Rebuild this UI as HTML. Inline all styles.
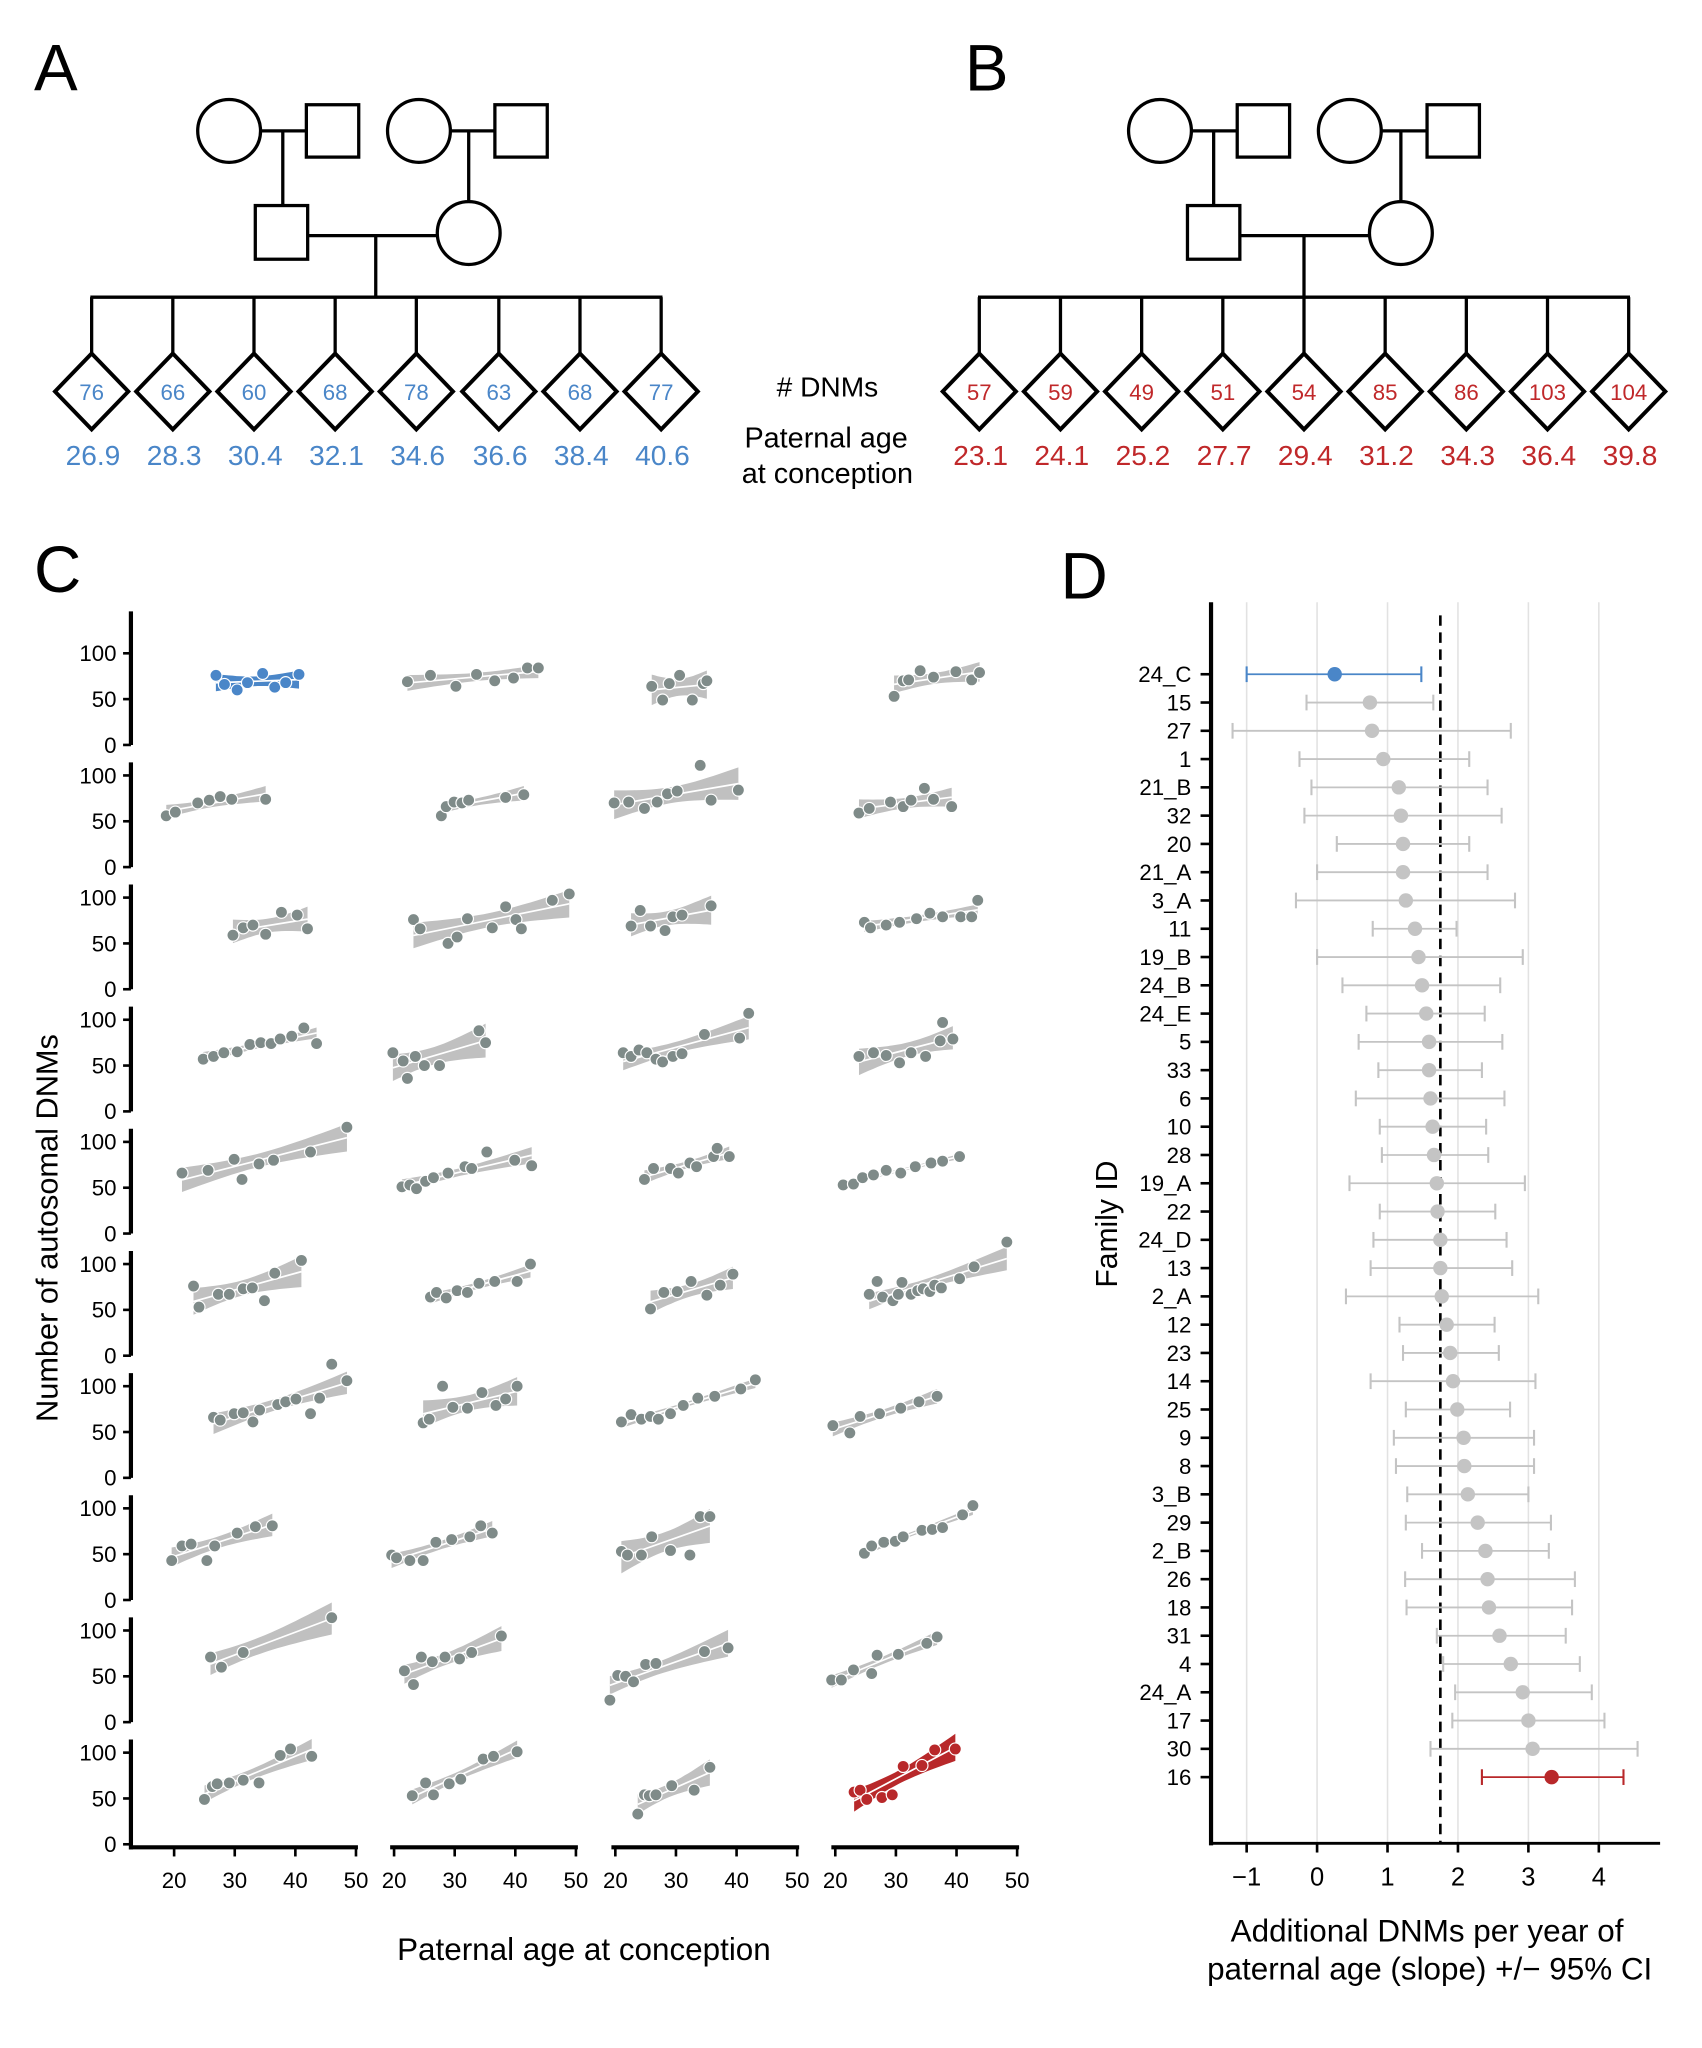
<!DOCTYPE html>
<html><head><meta charset="utf-8"><style>
html,body{margin:0;padding:0;background:#fff}
svg{display:block;font-family:"Liberation Sans",Arial,sans-serif}
</style></head><body>
<svg id="fig" width="1702" height="2048" viewBox="0 0 1300 1564.3" preserveAspectRatio="none" xmlns="http://www.w3.org/2000/svg">
<g fill="none" stroke="#000" stroke-width="2.5">
  <text x="26" y="69" font-size="50" fill="#000" stroke="none">A</text>
  <circle cx="175" cy="100" r="24"/>
  <rect x="234" y="80" width="40" height="40"/>
  <line x1="199" y1="100" x2="234" y2="100"/>
  <circle cx="320" cy="100" r="24"/>
  <rect x="378" y="80" width="40" height="40"/>
  <line x1="344" y1="100" x2="378" y2="100"/>
  <line x1="216" y1="100" x2="216" y2="157"/>
  <line x1="358" y1="100" x2="358" y2="154"/>
  <rect x="195" y="157" width="40" height="41"/>
  <circle cx="358" cy="178" r="24"/>
  <line x1="235" y1="180" x2="334" y2="180"/>
  <line x1="287" y1="180" x2="287" y2="227"/>
  <line x1="69" y1="227" x2="506" y2="227"/>
</g>
<g id="kidsA"></g>
<g fill="none" stroke="#000" stroke-width="2.5">
  <text x="737" y="69" font-size="50" fill="#000" stroke="none">B</text>
  <circle cx="886" cy="100" r="24"/>
  <rect x="945" y="80" width="40" height="40"/>
  <line x1="910" y1="100" x2="945" y2="100"/>
  <circle cx="1031" cy="100" r="24"/>
  <rect x="1090" y="80" width="40" height="40"/>
  <line x1="1055" y1="100" x2="1090" y2="100"/>
  <line x1="927" y1="100" x2="927" y2="157"/>
  <line x1="1070" y1="100" x2="1070" y2="154"/>
  <rect x="907" y="157" width="40" height="41"/>
  <circle cx="1070" cy="178" r="24"/>
  <line x1="947" y1="180" x2="1046" y2="180"/>
  <line x1="996" y1="180" x2="996" y2="227"/>
  <line x1="747" y1="227" x2="1245" y2="227"/>
</g>
<g id="kidsB"></g>
<text x="632" y="303" font-size="21.5" text-anchor="middle"># DNMs</text>
<text x="631" y="342" font-size="22" text-anchor="middle">Paternal age</text>
<text x="632" y="369" font-size="22" text-anchor="middle">at conception</text>
<text x="26" y="452" font-size="50">C</text>
<text x="810" y="457" font-size="50">D</text>
<g id="panelC"></g>
<g id="panelD"></g>
</svg>
<script>
// ---- Panel A/B data ----
const aDnms = [76,66,60,68,78,63,68,77];
const aAges = ["26.9","28.3","30.4","32.1","34.6","36.6","38.4","40.6"];
const bDnms = [57,59,49,51,54,85,86,103,104];
const bAges = ["23.1","24.1","25.2","27.7","29.4","31.2","34.3","36.4","39.8"];

// ---- Panel C data (ages, DNMs per family subplot, row-major) ----
const cAges = [
 [26.9,28.3,30.4,32.1,34.6,36.6,38.4,40.6],
 [22.2,26.0,30.2,33.6,36.6,39.7,42.0,43.8],
 [26.0,27.8,28.9,30.6,32.7,34.5,35.1],
 [29.7,31.2,32.1,34.0,36.2,39.9,42.5,43.8],
 [18.7,20.2,23.9,25.8,27.6,29.5,35.1],
 [27.8,28.6,29.9,31.2,32.3,38.4,41.4],
 [19.8,22.2,24.8,26.9,28.6,30.2,34.0,35.8,40.3],
 [23.9,25.6,29.1,31.2,32.5,34.7,36.2,39.2],
 [29.7,31.4,33.0,35.1,37.7,40.3,42.0],
 [23.2,24.3,28.9,30.4,32.1,36.2,38.4,40.1,41.0,46.1,48.9],
 [22.6,24.1,25.8,28.2,29.5,31.0,35.8],
 [24.8,25.8,28.4,30.6,33.4,35.6,37.7,40.7,42.5,43.5],
 [24.8,26.5,28.2,30.4,32.5,34.3,36.0,37.5,39.4,41.4,43.5],
 [19.8,21.5,22.2,23.5,25.0,27.5,34.0,35.1],
 [21.3,22.6,23.9,25.2,26.7,27.8,29.5,31.0,34.7,40.5,42.0],
 [23.9,26.3,28.4,30.6,32.5,34.9,37.3,37.7,39.4],
 [21.3,25.6,29.9,31.2,34.0,36.4,42.5,48.5],
 [21.3,22.6,23.7,25.2,26.5,28.9,31.7,32.8,35.3,39.9,42.7],
 [24.8,26.3,29.1,30.4,32.3,33.4,36.2,36.8,38.8],
 [21.3,23.0,24.5,26.3,28.4,30.8,33.2,35.8,37.7,40.5],
 [23.2,24.1,27.3,29.1,31.4,32.9,34.9,36.6,41.0],
 [26.0,27.0,28.6,30.4,32.1,34.0,36.6,40.3,42.5],
 [25.8,28.0,30.2,32.5,35.1,37.3,39.4],
 [25.6,26.9,27.8,29.5,30.4,31.0,32.5,33.6,34.5,35.6,36.4,37.5,40.5,42.9,48.3],
 [26.5,27.6,29.9,31.4,33.0,34.1,37.1,38.4,40.1,42.5,44.0,46.0,48.5],
 [24.8,25.8,28.0,29.7,32.1,34.5,36.8,38.4,40.3],
 [21.0,22.6,24.3,25.8,27.1,29.1,31.2,33.6,36.4,40.7,43.1],
 [19.6,22.4,24.1,27.3,30.8,33.8,36.8],
 [19.6,21.3,22.8,25.4,26.7,30.4,33.4,36.2],
 [19.6,20.4,22.6,24.8,26.9,29.5,32.5,34.3,36.2],
 [21.0,22.0,24.3,26.0,29.1,32.3,34.0,35.6],
 [24.8,26.0,28.0,29.9,31.2,34.3,36.0,37.7,41.0,42.7],
 [26.0,27.8,31.4,46.0],
 [21.7,23.2,24.5,26.3,28.4,30.8,32.8,37.7],
 [19.1,20.4,21.7,23.0,25.0,26.7,34.7,38.6],
 [19.4,21.0,23.0,26.0,26.9,30.4,35.1,36.8],
 [25.0,26.3,27.1,29.1,31.4,34.0,37.5,39.2,42.7],
 [23.0,25.2,26.5,29.1,31.0,34.7,36.4,40.3],
 [23.7,24.8,25.6,26.7,29.3,33.0,35.6],
 [23.1,24.1,25.2,27.7,29.4,31.2,34.3,36.4,39.8]
];
const cDnms = [
 [76,66,60,68,78,63,68,77],
 [69,76,64,77,70,73,84,84],
 [64,49,67,76,49,67,70],
 [53,70,71,81,74,80,71,79],
 [56,60,70,73,77,74,74],
 [56,66,71,70,73,76,79],
 [70,71,64,71,80,83,111,73,84],
 [59,64,71,66,73,86,74,66],
 [59,67,70,60,84,81,66],
 [76,66,50,57,77,67,90,76,66,97,104],
 [69,86,69,64,79,81,91],
 [73,67,70,73,77,83,79,79,79,97],
 [57,60,64,65,73,75,74,79,82,91,74],
 [64,55,36,60,50,50,88,75],
 [64,60,67,64,57,54,60,63,84,80,107],
 [60,64,61,53,64,60,77,97,79],
 [66,69,81,59,76,80,89,116],
 [51,53,49,57,61,66,73,71,89,80,74],
 [59,71,71,66,77,73,84,93,84],
 [53,54,61,64,69,66,73,77,79,84],
 [76,53,67,67,73,74,60,90,104],
 [64,69,63,71,69,79,81,81,100],
 [51,69,70,81,66,77,89],
 [67,81,64,60,67,80,67,71,73,70,77,74,84,97,124],
 [66,63,70,71,61,74,80,83,86,70,87,124,106],
 [60,64,100,77,76,93,79,86,100],
 [61,69,64,67,64,70,79,87,89,97,107],
 [57,49,67,70,76,83,89],
 [43,59,61,43,59,73,80,81],
 [49,46,43,43,63,66,69,81,73],
 [53,49,49,69,54,49,91,91],
 [51,59,63,64,69,76,77,79,93,103],
 [71,60,76,114],
 [56,41,71,66,71,69,76,94],
 [24,51,50,44,63,64,77,81],
 [46,46,57,53,73,74,86,93],
 [49,63,66,67,70,67,97,104,96],
 [53,67,54,66,71,93,96,101],
 [33,54,53,54,64,59,84],
 [57,59,49,51,54,85,86,103,104]
];
const cXTicks = [20,30,40,50];
const cYTicks = [0,50,100];

// ---- Panel D data ----
const families = ["24_C","15","27","1","21_B","32","20","21_A","3_A","11","19_B","24_B","24_E","5","33","6","10","28","19_A","22","24_D","13","2_A","12","23","14","25","9","8","3_B","29","2_B","26","18","31","4","24_A","17","30","16"];
const slopes = [0.25,0.75,0.78,0.94,1.16,1.19,1.22,1.22,1.26,1.39,1.44,1.49,1.55,1.59,1.59,1.61,1.64,1.66,1.70,1.71,1.75,1.75,1.77,1.84,1.89,1.93,1.99,2.08,2.09,2.14,2.28,2.39,2.42,2.44,2.59,2.75,2.92,3.00,3.06,3.33];
const ciLow = [-1.0,-0.15,-1.2,-0.25,-0.08,-0.18,0.28,0.0,-0.3,0.79,0.0,0.36,0.70,0.59,0.87,0.55,0.89,0.92,0.46,0.89,0.80,0.76,0.41,1.17,1.22,0.76,1.26,1.09,1.12,1.28,1.26,1.49,1.25,1.27,1.70,1.79,1.96,1.92,1.61,2.34];
const ciHigh = [1.48,1.65,2.75,2.16,2.42,2.62,2.16,2.42,2.81,1.98,2.92,2.60,2.38,2.63,2.34,2.66,2.40,2.43,2.95,2.53,2.69,2.77,3.14,2.52,2.58,3.10,2.74,3.08,3.08,3.00,3.32,3.29,3.66,3.62,3.53,3.73,3.90,4.08,4.55,4.35];
const dXTicks = [-1,0,1,2,3,4];
const meanSlope = 1.75;

const NS = "http://www.w3.org/2000/svg";
function mk(tag, attrs, parent){
  const e = document.createElementNS(NS, tag);
  for (const k in attrs) e.setAttribute(k, attrs[k]);
  if (parent) parent.appendChild(e);
  return e;
}

// ---- Children diamonds ----
function kids(gId, xs, dnms, ages, color){
  const g = document.getElementById(gId);
  xs.forEach((x, i) => {
    const l = mk("line", {x1:x, y1:227, x2:x, y2:270, stroke:"#000", "stroke-width":2.5}, g);
    
    
    const d = mk("polygon", {points:`${x},270 ${x+28},299 ${x},328 ${x-28},299`, fill:"#fff", stroke:"#000", "stroke-width":3}, g);
    
    
    const t = mk("text", {x:x, y:305.5, "font-size":17, fill:color, "text-anchor":"middle"}, g);
    t.textContent = dnms[i];
    
    
    const a = mk("text", {x:x+1, y:355, "font-size":21.5, fill:color, "text-anchor":"middle"}, g);
    a.textContent = ages[i];
    
    
  });
}
kids("kidsA", [70,132,194,256,318,381,443,505], aDnms, aAges, "#4a86c8");
kids("kidsB", [748,810,872,934,996,1058,1120,1182,1244], bDnms, bAges, "#c0282a");

// ---- Panel C ----
const X20 = [133,301,470,638];
function cx(c, age){ return X20[c] + (age-20)*4.63; }
function cy(r, v){ return 569 + r*93.3 - v*0.70; }
const gC = document.getElementById("panelC");

for (let r = 0; r < 10; r++){
  const top = r === 0 ? 467 : cy(r, 0) - 80;
  const ax = mk("line", {x1:100, y1:top, x2:100, y2:cy(r,0)+ (r===9?4:0), stroke:"#000", "stroke-width":3.2}, gC);
  
  
  cYTicks.forEach(v => {
    const tk = mk("line", {x1:94, y1:cy(r,v), x2:100, y2:cy(r,v), stroke:"#000", "stroke-width":2}, gC);
    
    
    const tl = mk("text", {x:89, y:cy(r,v)+6, "font-size":17, "text-anchor":"end"}, gC);
    tl.textContent = v;
    
    
  });
}
for (let c = 0; c < 4; c++){
  const yb = 1411;
  const x0 = c === 0 ? 100 : cx(c,20) - 3;
  const xa = mk("line", {x1:x0, y1:yb, x2:cx(c,50)+1.5, y2:yb, stroke:"#000", "stroke-width":3.2}, gC);
  
  
  cXTicks.forEach(v => {
    const tk = mk("line", {x1:cx(c,v), y1:yb, x2:cx(c,v), y2:yb+7, stroke:"#000", "stroke-width":2}, gC);
    
    
    const tl = mk("text", {x:cx(c,v), y:1442, "font-size":17, "text-anchor":"middle"}, gC);
    tl.textContent = v;
    
    
  });
}
const yt = mk("text", {x:0, y:0, "font-size":23.5, "text-anchor":"middle", transform:"translate(44,938) rotate(-90)"}, gC);
yt.textContent = "Number of autosomal DNMs";


const xt = mk("text", {x:446, y:1497, "font-size":24, "text-anchor":"middle"}, gC);
xt.textContent = "Paternal age at conception";



cAges.forEach((ages, k) => {
  const r = Math.floor(k/4), c = k % 4;
  const ys = cDnms[k];
  const n = ages.length;
  const mx = ages.reduce((a,b)=>a+b,0)/n, my = ys.reduce((a,b)=>a+b,0)/n;
  let sxx = 0, sxy = 0;
  for (let i=0;i<n;i++){ sxx += (ages[i]-mx)**2; sxy += (ages[i]-mx)*(ys[i]-my); }
  const b = sxy/sxx, a = my - b*mx;
  let sse = 0;
  for (let i=0;i<n;i++) sse += (ys[i]-a-b*ages[i])**2;
  const s = Math.sqrt(sse/Math.max(n-2,1));
  const t = n <= 4 ? 2.3 : n <= 7 ? 2.2 : n <= 9 ? 2.1 : 2.0;
  const xmin = Math.min(...ages), xmax = Math.max(...ages);
  let upper = [], lower = [];
  for (let j=0;j<=20;j++){
    const xv = xmin + (xmax-xmin)*j/20;
    const f = a + b*xv;
    const se = s*Math.sqrt(1/n + (xv-mx)**2/sxx);
    upper.push(`${cx(c,xv).toFixed(1)},${cy(r,f+t*se).toFixed(1)}`);
    lower.unshift(`${cx(c,xv).toFixed(1)},${cy(r,f-t*se).toFixed(1)}`);
  }
  const isBlue = k === 0, isRed = k === 39;
  const bandCol = isBlue ? "#4a86c8" : isRed ? "#b8282a" : "#c0c0c0";
  const ptCol = isBlue ? "#4a86c8" : isRed ? "#b8282a" : "#7f8b89";
  const g = mk("g", {}, gC);
  
  
  const band = mk("polygon", {points: upper.concat(lower).join(" "), fill:bandCol, stroke:"none"}, g);
  
  
  const ln = mk("line", {x1:cx(c,xmin), y1:cy(r,a+b*xmin), x2:cx(c,xmax), y2:cy(r,a+b*xmax), stroke:"#fff", "stroke-width":1.3}, g);
  
  
  ages.forEach((x,i) => {
    const p = mk("circle", {cx:cx(c,x), cy:cy(r,ys[i]), r:4.6, fill:ptCol, stroke:"#fff", "stroke-width":0.9}, g);
    
    
  });
});

// ---- Panel D ----
const gD = document.getElementById("panelD");
function dx(v){ return 1006 + v*53.8; }
function dy(i){ return 515 + i*21.6; }
dXTicks.forEach(v => {
  const gl = mk("line", {x1:dx(v), y1:460, x2:dx(v), y2:1408, stroke:"#e2e2e2", "stroke-width":1.2}, gD);
  
  
});
const mean = mk("line", {x1:dx(meanSlope), y1:470, x2:dx(meanSlope), y2:1408, stroke:"#000", "stroke-width":2, "stroke-dasharray":"8,5"}, gD);


families.forEach((f,i) => {
  const y = dy(i);
  const col = i === 0 ? "#4a86c8" : i === families.length-1 ? "#b8282a" : "#c4c4c4";
  const g = mk("g", {}, gD);
  
  
  const eb = mk("line", {x1:dx(ciLow[i]), y1:y, x2:dx(ciHigh[i]), y2:y, stroke:col, "stroke-width":1.4}, g);
  
  
  [ciLow[i], ciHigh[i]].forEach(v => {
    const cap = mk("line", {x1:dx(v), y1:y-6, x2:dx(v), y2:y+6, stroke:col, "stroke-width":1.6}, g);
    
    
  });
  const pt = mk("circle", {cx:dx(slopes[i]), cy:y, r:5.5, fill:col}, g);
  
  
  const tk = mk("line", {x1:917, y1:y, x2:925, y2:y, stroke:"#000", "stroke-width":2}, g);
  
  
  const lb = mk("text", {x:910, y:y+6, "font-size":17, "text-anchor":"end"}, g);
  lb.textContent = f;
  
  
});
const yax = mk("line", {x1:925, y1:460, x2:925, y2:1409.5, stroke:"#000", "stroke-width":3.2}, gD);


const xax = mk("line", {x1:923.5, y1:1408, x2:1268, y2:1408, stroke:"#000", "stroke-width":2.2}, gD);


dXTicks.forEach(v => {
  const tk = mk("line", {x1:dx(v), y1:1408, x2:dx(v), y2:1415, stroke:"#000", "stroke-width":2}, gD);
  
  
  const tl = mk("text", {x:dx(v), y:1440, "font-size":19.5, "text-anchor":"middle"}, gD);
  tl.textContent = v < 0 ? "\u2212" + Math.abs(v) : v;
  
  
});
const fid = mk("text", {x:0, y:0, "font-size":23, "text-anchor":"middle", transform:"translate(853,935) rotate(-90)"}, gD);
fid.textContent = "Family ID";


const dx1 = mk("text", {x:1090, y:1483, "font-size":24, "text-anchor":"middle"}, gD);
dx1.textContent = "Additional DNMs per year of";


const dx2 = mk("text", {x:1092, y:1512, "font-size":24, "text-anchor":"middle"}, gD);
dx2.textContent = "paternal age (slope) +/\u2212 95% CI";


</script>
</body></html>
